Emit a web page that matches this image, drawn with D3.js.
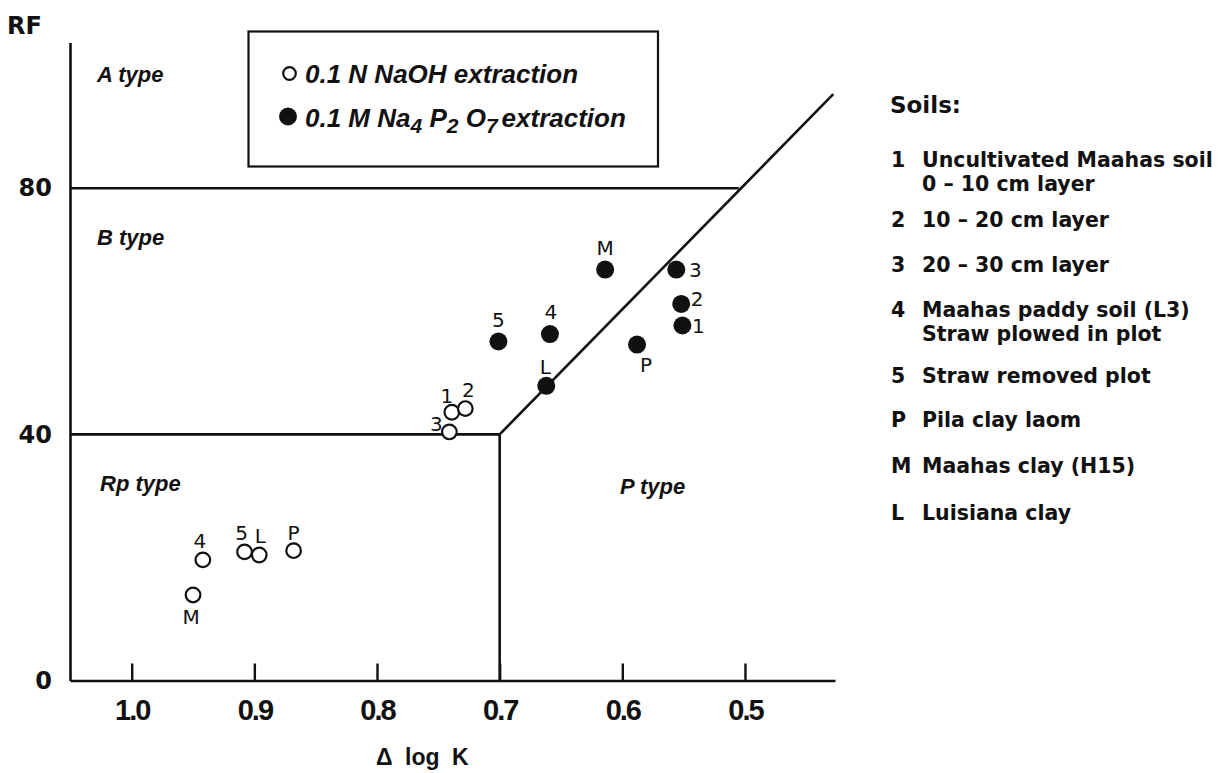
<!DOCTYPE html>
<html>
<head>
<meta charset="utf-8">
<script src="https://cdn.jsdelivr.net/npm/d3@7/dist/d3.min.js"></script>
<style>
  html, body { margin: 0; padding: 0; background: #fff; }
  svg { display: block; }
</style>
</head>
<body>
<svg id="chart" width="1222" height="773"></svg>
<script>
// ---------------- DATA ----------------
const xTicks = [1.0, 0.9, 0.8, 0.7, 0.6, 0.5];
const yTicks = [0, 40, 80];

// 0.1 N NaOH extraction (open circles)
const naohLabels = ["1", "2", "3", "4", "5", "P", "M", "L"];
const naohDlogK  = [0.739, 0.728, 0.741, 0.942, 0.908, 0.868, 0.950, 0.896];
const naohRF     = [43.6, 44.2, 40.4, 19.6, 20.9, 21.1, 13.9, 20.4];

// 0.1 M Na4P2O7 extraction (filled circles)
const pyroLabels = ["1", "2", "3", "4", "5", "P", "M", "L"];
const pyroDlogK  = [0.551, 0.552, 0.556, 0.659, 0.701, 0.588, 0.614, 0.662];
const pyroRF     = [57.7, 61.2, 66.8, 56.3, 55.1, 54.6, 66.8, 47.9];

// type boundaries (ΔlogK, RF)
const boundaryRF80   = [[1.0503, 80], [0.505, 80]];
const boundaryRF40   = [[1.0503, 40], [0.70, 40]];
const boundaryV07    = [[0.70, 0], [0.70, 40]];
const boundaryDiag   = [[0.70, 40], [0.428, 95.3]];

const regionNames = ["A type", "B type", "Rp type", "P type"];

const soilKeys  = ["1", "2", "3", "4", "5", "P", "M", "L"];
const soilTexts = [
  ["Uncultivated Maahas soil", "0 – 10 cm layer"],
  ["10 – 20 cm layer"],
  ["20 – 30 cm layer"],
  ["Maahas paddy soil (L3)", "Straw plowed in plot"],
  ["Straw removed plot"],
  ["Pila clay laom"],
  ["Maahas clay (H15)"],
  ["Luisiana clay"]
];

// ---------------- LAYOUT ----------------
const svg = d3.select("#chart");
const x = d3.scaleLinear().domain([1.0503, 0.4266]).range([70, 835]);
const y = d3.scaleLinear().domain([0, 103.7]).range([680.5, 42.5]);

const ink = "#111";
const sans = "'Liberation Sans', Arial, sans-serif";
const round = "'DejaVu Sans', sans-serif";

// label offsets (px)
const naohOff = {"1":[-5,-16],"2":[3,-19],"3":[-13,-8],"4":[-3,-19],"5":[-3,-19],"P":[0,-18],"M":[-2,22],"L":[1,-19]};
const pyroOff = {"1":[16,0],"2":[16,-5],"3":[19,0],"4":[1,-22],"5":[0,-22],"P":[9,20],"M":[0,-22],"L":[-1,-19]};

// ---------------- AXES ----------------
const xAxis = d3.axisBottom(x)
  .tickValues(xTicks)
  .tickFormat(d3.format(".1f"))
  .tickSizeInner(-17)
  .tickSizeOuter(0)
  .tickPadding(19);

const gx = svg.append("g").attr("transform", `translate(0,${y(0)})`).call(xAxis);
gx.select(".domain").attr("stroke", ink).attr("stroke-width", 2.6);
gx.selectAll(".tick line").attr("stroke", ink).attr("stroke-width", 2.4);
gx.selectAll(".tick text")
  .attr("fill", ink)
  .style("font-family", sans).style("font-weight", "bold")
  .style("font-size", "29px").style("letter-spacing", "-2px");

const yAxis = d3.axisLeft(y)
  .tickValues(yTicks)
  .tickFormat(d3.format("d"))
  .tickSizeInner(0)
  .tickSizeOuter(0)
  .tickPadding(18);

const gy = svg.append("g").attr("transform", `translate(${x(1.0503)},0)`).call(yAxis);
gy.select(".domain").attr("stroke", ink).attr("stroke-width", 2.6);
gy.selectAll(".tick text")
  .attr("fill", ink)
  .style("font-family", round).style("font-weight", "bold")
  .style("font-size", "24px");

svg.append("text")
  .attr("x", 7).attr("y", 34)
  .attr("fill", ink)
  .attr("font-family", "DejaVu Sans")
  .attr("font-weight", "bold")
  .attr("font-size", 24)
  .text("RF");

svg.append("text")
  .attr("x", (x(0.8) + x(0.7)) / 2 - 16).attr("y", 765)
  .attr("text-anchor", "middle")
  .attr("fill", ink)
  .style("font-family", sans).style("font-weight", "bold")
  .style("font-size", "23px").style("word-spacing", "6px")
  .text("Δ log K");

// ---------------- BOUNDARIES ----------------
const line = d3.line().x(d => x(d[0])).y(d => y(d[1]));
[boundaryRF80, boundaryRF40, boundaryV07, boundaryDiag].forEach(b => {
  svg.append("path").attr("d", line(b))
    .attr("fill", "none").attr("stroke", ink).attr("stroke-width", 2.6);
});

// region names
const regionPos = [[97, 82], [97, 245], [100, 491], [620, 494]];
regionNames.forEach((t, i) => {
  svg.append("text")
    .attr("x", regionPos[i][0]).attr("y", regionPos[i][1])
    .attr("fill", ink)
    .style("font-family", sans).style("font-weight", "bold").style("font-style", "italic")
    .style("font-size", "22px")
    .text(t);
});

// ---------------- LEGEND BOX ----------------
svg.append("rect")
  .attr("x", 248.5).attr("y", 31.5).attr("width", 409.5).attr("height", 135)
  .attr("fill", "none").attr("stroke", ink).attr("stroke-width", 2.2);

svg.append("circle").attr("cx", 289.5).attr("cy", 73.5).attr("r", 6.3)
  .attr("fill", "#fff").attr("stroke", ink).attr("stroke-width", 2.2);
svg.append("circle").attr("cx", 288).attr("cy", 116.5).attr("r", 9)
  .attr("fill", ink);

const legFont = g => g.attr("fill", ink)
  .style("font-family", sans).style("font-weight", "bold").style("font-style", "italic")
  .style("font-size", "26px");

svg.append("text").attr("x", 305).attr("y", 83).call(legFont)
  .text("0.1 N NaOH extraction");

const t2 = svg.append("text").attr("x", 305).attr("y", 127).call(legFont);
t2.append("tspan").text("0.1 M Na");
t2.append("tspan").attr("dy", 6).style("font-size", "21px").text("4");
t2.append("tspan").attr("dy", -6).text(" P");
t2.append("tspan").attr("dy", 6).style("font-size", "21px").text("2");
t2.append("tspan").attr("dy", -6).text(" O");
t2.append("tspan").attr("dy", 6).style("font-size", "21px").text("7");
t2.append("tspan").attr("dy", -6).attr("dx", 4).text("extraction");

// ---------------- POINTS ----------------
const naoh = naohLabels.map((l, i) => ({l, x: naohDlogK[i], y: naohRF[i]}));
const pyro = pyroLabels.map((l, i) => ({l, x: pyroDlogK[i], y: pyroRF[i]}));

svg.append("g").selectAll("circle").data(pyro).join("circle")
  .attr("cx", d => x(d.x)).attr("cy", d => y(d.y)).attr("r", 9)
  .attr("fill", ink);

svg.append("g").selectAll("circle").data(naoh).join("circle")
  .attr("cx", d => x(d.x)).attr("cy", d => y(d.y)).attr("r", 7.3)
  .attr("fill", "#fff").attr("stroke", ink).attr("stroke-width", 2.2);

const ptLabel = (sel, off) => sel
  .attr("x", d => x(d.x) + off[d.l][0])
  .attr("y", d => y(d.y) + off[d.l][1])
  .attr("text-anchor", "middle").attr("dominant-baseline", "central")
  .attr("fill", ink)
  .style("font-family", round).style("font-size", "20px")
  .text(d => d.l);

svg.append("g").selectAll("text").data(naoh).join("text").call(ptLabel, naohOff);
svg.append("g").selectAll("text").data(pyro).join("text").call(ptLabel, pyroOff);

// ---------------- SOILS KEY ----------------
svg.append("text").attr("x", 890).attr("y", 113)
  .attr("fill", ink)
  .style("font-family", round).style("font-weight", "bold").style("font-size", "23px")
  .text("Soils:");

const keyY = [167, 227, 272, 317, 383, 427, 473, 520];
soilKeys.forEach((k, i) => {
  const g = svg.append("g")
    .attr("fill", ink)
    .style("font-family", round).style("font-weight", "bold").style("font-size", "20.5px");
  g.append("text").attr("x", 891).attr("y", keyY[i]).text(k);
  soilTexts[i].forEach((t, j) => {
    g.append("text").attr("x", 922).attr("y", keyY[i] + j * 24).text(t);
  });
});
</script>
</body>
</html>
